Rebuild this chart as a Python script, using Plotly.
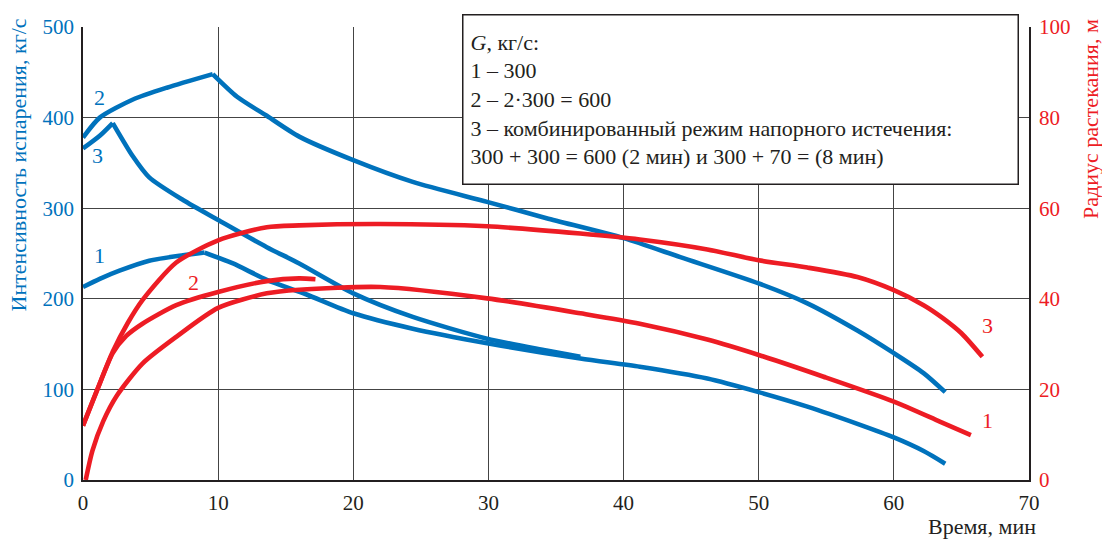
import plotly.graph_objects as go

# ---------------- data ----------------
# Evaporation intensity, kg/s (left axis)
blue1_rise_x = [0, 1.24, 2.7, 4.9, 7.4, 9.0]
blue1_rise_y = [213, 222, 231, 242, 248, 251]
blue1_fall_x = [9.0, 11.1, 13.6, 16.5, 20, 24.4, 29.9, 36.8, 41.2, 46.2, 50, 53.6, 57.3, 60, 62.2, 63.8]
blue1_fall_y = [251, 239, 221, 205, 184, 167, 151, 134, 125, 112, 97, 81, 62, 47, 32, 18]

blue2_rise_x = [0, 1.24, 3.7, 6.2, 9.6]
blue2_rise_y = [378, 400, 420, 433, 448]
blue2_fall_x = [9.6, 11.4, 13.6, 16, 20, 24.4, 29.9, 34.3, 40, 44.2, 50, 53.6, 57.3, 60, 62.2, 63.8]
blue2_fall_y = [448, 423, 402, 379, 353, 329, 307, 289, 267, 246, 217, 195, 165, 140, 118, 97]

blue3_rise_x = [0, 1.24, 2.2]
blue3_rise_y = [366, 380, 394]
blue3_fall_x = [2.2, 3.7, 4.9, 7.4, 10, 13.6, 16, 20, 24.4, 29.9, 34.3, 36.8]
blue3_fall_y = [394, 357, 334, 309, 287, 257, 239, 206, 180, 156, 143, 136]

# Spreading radius, m (right axis)
red1_x = [0.2, 0.7, 1.5, 2.5, 4.4, 6.9, 10, 13.6, 16, 22, 29.9, 36.8, 41.2, 46.2, 50, 54.8, 60, 63.4, 65.7]
red1_y = [0, 6.5, 13.0, 18.6, 25.7, 31.6, 38.0, 41.2, 42.0, 42.6, 40.1, 36.8, 34.5, 31.0, 27.6, 22.8, 17.3, 12.9, 9.9]

red2_x = [0, 1.0, 2.2, 3.2, 4.4, 6.9, 10, 13.6, 16, 17.2]
red2_y = [12.0, 19.5, 28.0, 31.8, 34.5, 38.6, 41.5, 43.9, 44.5, 44.3]

red3_x = [0, 1.0, 2.2, 3.3, 4.4, 6.9, 10, 13.6, 16, 22, 29.9, 36.8, 41.2, 46.2, 50, 53.6, 57.3, 60, 62.2, 63.6, 65.0, 66.55]
red3_y = [12.0, 19.5, 28.3, 34.6, 39.7, 48.0, 52.9, 55.8, 56.2, 56.5, 56.0, 54.4, 53.1, 50.9, 48.5, 46.9, 44.8, 41.9, 38.6, 35.8, 32.4, 27.2]

x_ticks = [0, 10, 20, 30, 40, 50, 60, 70]
y_left_ticks = [0, 100, 200, 300, 400, 500]
y_right_ticks = [0, 20, 40, 60, 80, 100]

legend_lines = [
    "<i>G</i>, кг/с:",
    "1 – 300",
    "2 – 2·300 = 600",
    "3 – комбинированный режим напорного истечения:",
    "300 + 300 = 600 (2 мин) и 300 + 70 = (8 мин)",
]

# ---------------- style ----------------
BLUE = "#0072BC"
RED = "#ED1C24"
DARK = "#231F20"
FONT = "Liberation Serif"
LW = 4.6
CLEAR = "rgba(0,0,0,0)"

fig = go.Figure()


def add(x, y, color, axis):
    fig.add_trace(go.Scatter(x=x, y=y, mode="lines", yaxis=axis,
                             line=dict(color=color, width=LW, shape="spline", smoothing=0.7)))


add(blue1_rise_x, blue1_rise_y, BLUE, "y")
add(blue1_fall_x, blue1_fall_y, BLUE, "y")
add(blue2_rise_x, blue2_rise_y, BLUE, "y")
add(blue2_fall_x, blue2_fall_y, BLUE, "y")
add(blue3_rise_x, blue3_rise_y, BLUE, "y")
add(blue3_fall_x, blue3_fall_y, BLUE, "y")
add(red1_x, red1_y, RED, "y2")
add(red2_x, red2_y, RED, "y2")
add(red3_x, red3_y, RED, "y2")

W, H = 1102, 539
ML, MR, MT, MB = 83, 73, 27, 59

fig.update_layout(
    width=W, height=H, showlegend=False,
    margin=dict(l=ML, r=MR, t=MT, b=MB),
    paper_bgcolor="white", plot_bgcolor="white",
    xaxis=dict(range=[0, 70], tickvals=x_ticks, showgrid=True, gridcolor="#444444", gridwidth=1.3,
               showline=True, linecolor=DARK, linewidth=1.6, zeroline=False,
               ticks="outside", ticklen=3, tickcolor=CLEAR,
               tickfont=dict(family=FONT, size=21, color=DARK)),
    yaxis=dict(range=[0, 500], tickvals=y_left_ticks, showgrid=True, gridcolor="#444444", gridwidth=1.3,
               showline=True, linecolor=DARK, linewidth=1.6, zeroline=False,
               ticks="outside", ticklen=3, tickcolor=CLEAR,
               tickfont=dict(family=FONT, size=21, color=BLUE)),
    yaxis2=dict(range=[0, 100], tickvals=y_right_ticks, overlaying="y", side="right", showgrid=False,
                showline=True, linecolor=DARK, linewidth=1.6, zeroline=False,
                ticks="outside", ticklen=4, tickcolor=CLEAR,
                tickfont=dict(family=FONT, size=21, color=RED)),
)

pw = W - ML - MR
ph = H - MT - MB


def px(x):
    return (x - ML) / pw


def py(y):
    return (H - MB - y) / ph


# legend box: annotation with its own white background and border
fig.add_annotation(xref="paper", yref="paper", x=px(461.5), y=py(14), xanchor="left", yanchor="top",
                   text="<br>".join(legend_lines), showarrow=False, align="left", valign="middle",
                   width=540, height=154, borderpad=7, borderwidth=1.5,
                   bordercolor=DARK, bgcolor="white",
                   font=dict(family=FONT, size=22, color=DARK))

# axis titles
fig.add_annotation(xref="paper", yref="paper", x=px(18), y=py(17), xanchor="center", yanchor="top",
                   text="Интенсивность испарения, кг/с", textangle=-90, showarrow=False,
                   font=dict(family=FONT, size=22, color=BLUE))
fig.add_annotation(xref="paper", yref="paper", x=px(1090), y=py(17), xanchor="center", yanchor="top",
                   text="Радиус растекания, м", textangle=-90, showarrow=False,
                   font=dict(family=FONT, size=22, color=RED))
fig.add_annotation(xref="paper", yref="paper", x=px(1038), y=py(526), xanchor="right", yanchor="middle",
                   text="Время, мин", showarrow=False,
                   font=dict(family=FONT, size=22, color=DARK))

# curve labels
for txt, x, y, c, ax in [("2", 1.24, 422, BLUE, "y"), ("3", 1.1, 358, BLUE, "y"), ("1", 1.24, 248, BLUE, "y"),
                         ("2", 8.15, 43.7, RED, "y2"), ("3", 66.9, 34.2, RED, "y2"), ("1", 66.9, 13.2, RED, "y2")]:
    fig.add_annotation(x=x, y=y, xref="x", yref=ax, text=txt, showarrow=False,
                       font=dict(family=FONT, size=22, color=c))

fig.write_html("out.html")
